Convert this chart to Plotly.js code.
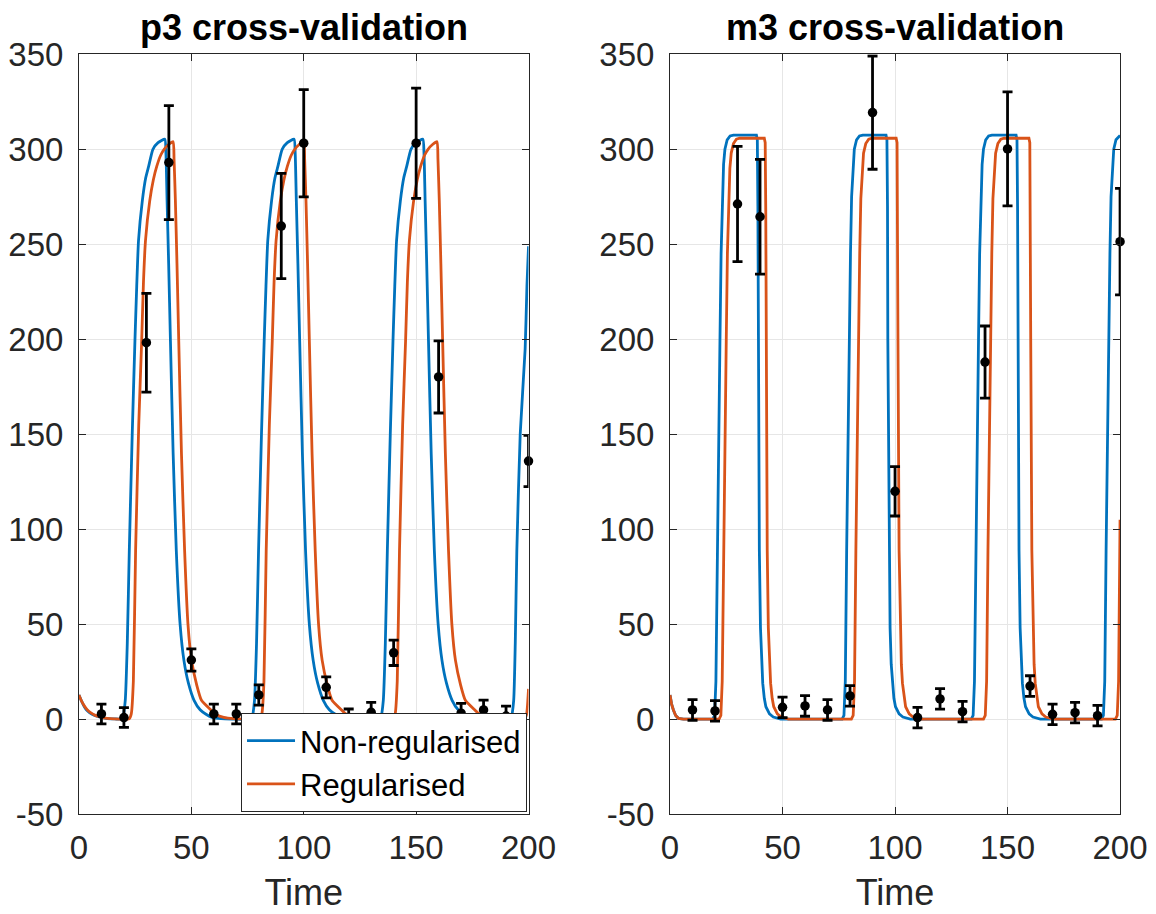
<!DOCTYPE html>
<html>
<head>
<meta charset="utf-8">
<script src="https://cdn.plot.ly/plotly-3.0.1.min.js"></script>
<style>html,body{margin:0;padding:0;background:#fff;}#chart{width:1156px;height:914px;}</style>
</head>
<body>
<div id="chart"></div>
<script>
// ---------- p3 panel: model curves ----------
const p3NonRegT = [0,1,2,3,4,5,7,9,12,16,
  18.7,19.5,20.6,21.5,22.4,23.7,24.9,25.7,26.5,28.2,29.7,31.0,32.9,35.2,38.2,38.7,39.2,39.9,40.7,41.9,43.3,45.0,46.7,48.7,51.2,53.9,56.7,59.2,63.2,68.2,
  76.2,77.0,78.1,79.0,79.9,81.2,82.4,83.2,84.0,85.7,87.2,88.5,90.4,92.7,95.7,96.2,96.7,97.4,98.2,99.4,100.8,102.5,104.2,106.2,108.7,111.4,114.2,116.7,120.7,125.7,
  133.5,134.3,135.4,136.3,137.2,138.5,139.7,140.5,141.3,143.0,144.5,145.8,147.7,150.0,153.0,153.5,154.0,154.7,155.5,156.7,158.1,159.8,161.5,163.5,166.0,168.7,171.5,174.0,178.0,183.0,
  191.5,192.3,193.4,194.1,194.8,196.3,198.5,199.3,200];
const p3NonRegV = [12.8,10,7.5,5.5,4.2,3.2,2,1.2,0.5,0.2,
  0.1,1,10,40,89,150,199,228,252,273,285,291,300,303.5,305.3,298,273,240,199,140,89,50,31,19,10,5,2.5,1,0.3,0.1,
  0.1,1,10,40,89,150,199,228,252,273,285,291,300,303.5,305.3,298,273,240,199,140,89,50,31,19,10,5,2.5,1,0.3,0.1,
  0.1,1,10,40,89,150,199,228,252,273,285,291,300,303.5,305.3,298,273,240,199,140,89,50,31,19,10,5,2.5,1,0.3,0.1,
  0.1,1,10,40,89,150,195,228,249];

const p3RegT = [0,1,2,3,4,5,7,9,11,14,18,
  21.4,22.4,23.3,24.2,25.2,26.6,27.9,28.7,29.6,31.5,33.1,34.6,36.4,37.9,39.9,41.9,42.3,42.9,43.6,44.4,45.6,47.0,48.5,50.1,52.4,54.5,58.6,61.0,64.4,68.9,73.9,
  79.5,80.5,81.4,82.3,83.3,84.7,86.0,86.8,87.7,89.6,91.2,92.7,94.5,96.0,98.0,100.0,100.4,101.0,101.7,102.5,103.7,105.1,106.6,108.2,110.5,112.6,116.7,119.1,122.5,127.0,132.0,
  138.8,139.8,140.7,141.6,142.6,144.0,145.3,146.1,147.0,148.9,150.5,152.0,153.8,155.3,157.3,159.3,159.7,160.3,161.0,161.8,163.0,164.4,165.9,167.5,169.8,171.9,176.0,178.4,181.8,186.3,191.3,
  197.3,198.3,199.2,200];
const p3RegV = [12.8,10,7.8,6,4.6,3.6,2.2,1.4,0.8,0.3,0.1,
  0.1,0.3,3,20,89,155,199,230,252,273,284,291,297,300,302.5,304,295,273,240,199,140,89,50,31,18,10,5,2.5,1,0.3,0.1,
  0.1,0.3,3,20,89,155,199,230,252,273,284,291,297,300,302.5,304,295,273,240,199,140,89,50,31,18,10,5,2.5,1,0.3,0.1,
  0.1,0.3,3,20,89,155,199,230,252,273,284,291,297,300,302.5,304,295,273,240,199,140,89,50,31,18,10,5,2.5,1,0.3,0.1,
  0.1,0.3,3,16];

// ---------- m3 panel: model curves ----------
const m3NonRegT = [0,0.7,1.5,2.5,3.7,6,
  19.0,19.8,20.4,21.0,21.6,22.2,22.7,23.2,23.8,24.4,25.4,26.7,28.2,38.4,38.8,39.05,39.2,39.7,40.2,40.7,41.2,41.9,42.6,44.2,45.9,49.2,
  76.5,77.3,77.9,78.5,79.1,79.7,80.2,80.7,81.3,81.9,82.9,84.2,85.7,96.0,96.4,96.65,96.8,97.3,97.8,98.3,98.8,99.5,100.2,101.8,103.5,106.8,
  133.9,134.7,135.3,135.9,136.5,137.1,137.6,138.1,138.7,139.3,140.3,141.6,143.1,153.8,154.2,154.45,154.6,155.1,155.6,156.1,156.6,157.3,158.0,159.6,161.3,164.6,
  191.8,192.6,193.2,193.8,194.4,195.0,195.5,196.0,196.6,197.2,198.2,199.5,200];
const m3NonRegV = [12.8,8,4.9,2,0.5,0.1,
  0.1,2,20,89,150,200,245,275,292,300,305,307,307.5,307.5,305,270,200,89,48,29,19,11,6.6,2.8,1.2,0.1,
  0.1,2,20,89,150,200,245,275,292,300,305,307,307.5,307.5,305,270,200,89,48,29,19,11,6.6,2.8,1.2,0.1,
  0.1,2,20,89,150,200,245,275,292,300,305,307,307.5,307.5,305,270,200,89,48,29,19,11,6.6,2.8,1.2,0.1,
  0.1,2,20,89,150,200,245,275,292,300,305,307,307.3];

const m3RegT = [0,0.7,1.5,2.5,3.7,6,
  21.8,22.6,23.2,23.8,24.4,25.0,25.5,26.0,26.6,27.2,28.2,29.5,31.0,41.9,42.3,42.55,42.7,43.2,43.7,44.2,44.7,45.4,46.1,47.7,49.4,52.7,
  80.6,81.4,82.0,82.6,83.2,83.8,84.3,84.8,85.4,86.0,87.0,88.3,89.8,100.5,100.9,101.15,101.3,101.8,102.3,102.8,103.3,104.0,104.7,106.3,108.0,111.3,
  139.3,140.1,140.7,141.3,141.9,142.5,143.0,143.5,144.1,144.7,145.7,147.0,148.5,159.5,159.9,160.15,160.3,160.8,161.3,161.8,162.3,163.0,163.7,165.3,167.0,170.3,
  197.95,198.75,199.35,200];
const m3RegV = [12.8,8,4.9,2,0.5,0.1,
  0.1,2,20,89,150,200,245,274,290,298,303,305.3,305.8,305.8,303.5,268,200,89,48,29,19,11,6.6,2.8,1.2,0.1,
  0.1,2,20,89,150,200,245,274,290,298,303,305.3,305.8,305.8,303.5,268,200,89,48,29,19,11,6.6,2.8,1.2,0.1,
  0.1,2,20,89,150,200,245,274,290,298,303,305.3,305.8,305.8,303.5,268,200,89,48,29,19,11,6.6,2.8,1.2,0.1,
  0.1,2,20,105];

// ---------- measured data with error bars ----------
const dataT = [10,20,30,40,50,60,70,80,90,100,110,120,130,140,150,160,170,180,190,200];
const p3Obs = [2.8,0.9,198.2,293,31.2,2.8,2.8,12.8,259.6,303.2,16.8,0.2,3.7,35,303.2,180.2,3.2,4.9,1.7,135.9];
const p3Err = [5.2,5.2,26,30,5.9,5.2,5.2,5.3,27.7,28.2,5.5,5.2,5.2,6.7,29,19,5.2,5.2,5.2,13.5];
const m3Obs = [4.9,4.4,271.2,264.5,6.3,7.0,4.9,12.3,319.3,120,0.9,10.7,4.0,188,300.2,17.5,2.6,3.5,1.9,251.4];
const m3Err = [5.4,5.4,30.3,30.2,5.4,5.4,5.4,5.4,29.8,13,5.4,5.4,5.4,19,30,5.4,5.4,5.4,5.4,28];

const titles = ['p3 cross-validation', 'm3 cross-validation'];
const seriesNames = ['Non-regularised', 'Regularised'];
const xTicks = [0,50,100,150,200];
const yTicks = [-50,0,50,100,150,200,250,300,350];
const yTickText = ['-50','0','50','100','150','200','250','300','350'];

const BLUE = '#0072BD', ORANGE = '#D95319';
const FONT = 'Liberation Sans, Arial, Helvetica, sans-serif';

function lineTrace(x, y, color, name, xa, ya, show, smooth) {
  const ln = {color: color, width: 2.8};
  if (smooth) { ln.shape = 'spline'; ln.smoothing = 0.5; }
  return {x: x, y: y, type: 'scatter', mode: 'lines', name: name,
    line: ln, xaxis: xa, yaxis: ya, showlegend: show, hoverinfo: 'skip'};
}
function obsTrace(y, err, xa, ya) {
  return {x: dataT, y: y, type: 'scatter', mode: 'markers', showlegend: false,
    marker: {color: '#000', size: 9.5}, cliponaxis: false,
    error_y: {type: 'data', array: err, visible: true, color: '#000', thickness: 2.8, width: 5},
    xaxis: xa, yaxis: ya, hoverinfo: 'skip'};
}

const traces = [
  lineTrace(p3NonRegT, p3NonRegV, BLUE, seriesNames[0], 'x', 'y', true, true),
  lineTrace(p3RegT, p3RegV, ORANGE, seriesNames[1], 'x', 'y', true, true),
  obsTrace(p3Obs, p3Err, 'x', 'y'),
  lineTrace(m3NonRegT, m3NonRegV, BLUE, seriesNames[0], 'x2', 'y2', false, false),
  lineTrace(m3RegT, m3RegV, ORANGE, seriesNames[1], 'x2', 'y2', false, false),
  obsTrace(m3Obs, m3Err, 'x2', 'y2')
];

const AXC = '#262626';
function xAxis(domain, anchor) {
  return {domain: domain, anchor: anchor, range: [0, 200], tickvals: xTicks,
    ticks: 'inside', ticklen: 7, tickcolor: AXC, showline: true, linecolor: AXC, linewidth: 1,
    mirror: 'ticks', showgrid: true, gridcolor: '#e6e6e6', gridwidth: 1, zeroline: false,
    tickfont: {family: FONT, size: 33, color: AXC}, ticklabelstandoff: 4,
    title: {text: 'Time', font: {family: FONT, size: 36, color: AXC}, standoff: 14}};
}
function yAxis(domain, anchor) {
  return {domain: domain, anchor: anchor, range: [-50, 350], tickvals: yTicks, ticktext: yTickText,
    ticks: 'inside', ticklen: 7, tickcolor: AXC, showline: true, linecolor: AXC, linewidth: 1,
    mirror: 'ticks', showgrid: true, gridcolor: '#e6e6e6', gridwidth: 1, zeroline: false,
    tickfont: {family: FONT, size: 33, color: AXC}, ticklabelstandoff: 8};
}

const yDom = [0.1091, 0.9406];
const layout = {
  width: 1156, height: 914,
  margin: {l: 0, r: 0, t: 0, b: 0},
  paper_bgcolor: '#fff', plot_bgcolor: '#fff',
  font: {family: FONT, color: AXC},
  xaxis: xAxis([0.0683, 0.4572], 'y'),
  yaxis: yAxis(yDom, 'x'),
  xaxis2: xAxis([0.5796, 0.9689], 'y2'),
  yaxis2: yAxis(yDom, 'x2'),
  showlegend: true,
  legend: {x: 0.4559, y: 0.1116, xanchor: 'right', yanchor: 'bottom',
    bgcolor: '#fff', bordercolor: AXC, borderwidth: 1, itemwidth: 48,
    font: {family: FONT, size: 31, color: '#000'}, tracegroupgap: 0},
  annotations: [
    {text: '<b>' + titles[0] + '</b>', xref: 'paper', yref: 'paper', x: 0.2627, y: 0.9406,
     xanchor: 'center', yanchor: 'bottom', showarrow: false, yshift: 4,
     font: {family: FONT, size: 36, color: '#000'}},
    {text: '<b>' + titles[1] + '</b>', xref: 'paper', yref: 'paper', x: 0.7742, y: 0.9406,
     xanchor: 'center', yanchor: 'bottom', showarrow: false, yshift: 4,
     font: {family: FONT, size: 36, color: '#000'}}
  ]
};

Plotly.newPlot('chart', traces, layout, {displayModeBar: false, staticPlot: true});
</script>
</body>
</html>
